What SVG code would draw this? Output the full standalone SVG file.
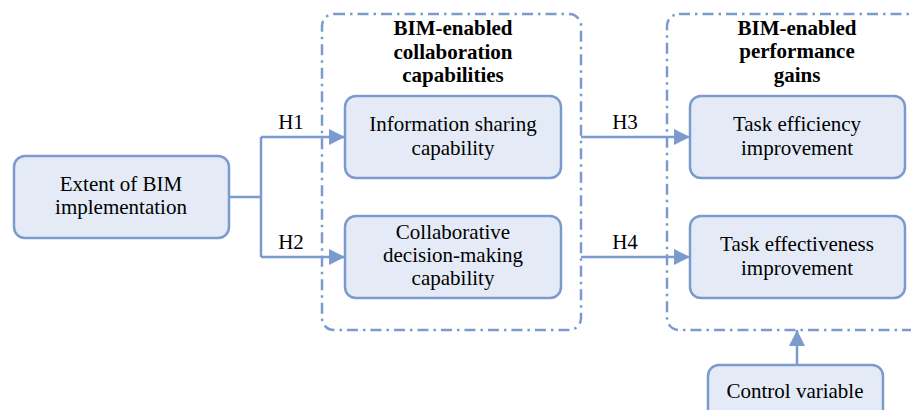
<svg xmlns="http://www.w3.org/2000/svg" width="911" height="410" viewBox="0 0 911 410" font-family="Liberation Serif, serif" font-size="21">
<style>
.node rect{fill:#e4ebf7;stroke:#7b9bcf;stroke-width:2.5}
.grp{fill:none;stroke:#7b9bcf;stroke-width:2.5;stroke-dasharray:11 5 2.5 5}
.conn path{fill:none;stroke:#7b9bcf;stroke-width:2.5}
</style>
<defs>
<marker id="ah" markerUnits="userSpaceOnUse" markerWidth="18" markerHeight="18" viewBox="0 0 18 18" refX="17" refY="9" orient="auto">
<path d="M1,1 L17,9 L1,17 Z" fill="#7b9bcf"/>
</marker>
</defs>
<rect x="0" y="0" width="911" height="410" fill="#fff"/>
<g class="node" id="extent">
<rect x="14" y="156" width="215" height="82" rx="11"/>
<text x="121" y="191" text-anchor="middle">Extent of BIM</text>
<text x="121" y="214" text-anchor="middle">implementation</text>
</g>
<g class="node" id="info">
<rect x="345" y="96" width="216" height="82" rx="11"/>
<text x="453" y="131" text-anchor="middle">Information sharing</text>
<text x="453" y="155" text-anchor="middle">capability</text>
</g>
<g class="node" id="decision">
<rect x="345" y="216" width="216" height="82" rx="11"/>
<text x="453" y="239" text-anchor="middle">Collaborative</text>
<text x="453" y="262" text-anchor="middle">decision-making</text>
<text x="453" y="285" text-anchor="middle">capability</text>
</g>
<g class="node" id="efficiency">
<rect x="690" y="96" width="215" height="82" rx="11"/>
<text x="797" y="131" text-anchor="middle">Task efficiency</text>
<text x="797" y="155" text-anchor="middle">improvement</text>
</g>
<g class="node" id="effectiveness">
<rect x="690" y="216" width="215" height="82" rx="11"/>
<text x="797" y="251" text-anchor="middle">Task effectiveness</text>
<text x="797" y="275" text-anchor="middle">improvement</text>
</g>
<g class="node" id="control">
<rect x="708" y="365" width="175" height="60" rx="11"/>
<text x="795" y="398" text-anchor="middle">Control variable</text>
</g>
<g id="group-collab">
<rect class="grp" x="322" y="14" width="259" height="316" rx="12"/>
<text x="453" y="35" text-anchor="middle" font-weight="bold">BIM-enabled</text>
<text x="453" y="59" text-anchor="middle" font-weight="bold">collaboration</text>
<text x="453" y="82" text-anchor="middle" font-weight="bold">capabilities</text>
</g>
<g id="group-perf">
<rect class="grp" x="667" y="14" width="270" height="316" rx="12"/>
<text x="797" y="35" text-anchor="middle" font-weight="bold">BIM-enabled</text>
<text x="797" y="58" text-anchor="middle" font-weight="bold">performance</text>
<text x="797" y="82" text-anchor="middle" font-weight="bold">gains</text>
</g>
<g class="conn" id="connectors">
<path d="M229,197 H261 M261,137 V257"/>
<path d="M261,137 H345" marker-end="url(#ah)"/>
<path d="M261,257 H345" marker-end="url(#ah)"/>
<path d="M581,137 H690" marker-end="url(#ah)"/>
<path d="M581,257 H690" marker-end="url(#ah)"/>
<path d="M797,365 V330" marker-end="url(#ah)"/>
<text x="291" y="129" text-anchor="middle">H1</text>
<text x="291" y="249" text-anchor="middle">H2</text>
<text x="625" y="129" text-anchor="middle">H3</text>
<text x="625" y="249" text-anchor="middle">H4</text>
</g>
</svg>
